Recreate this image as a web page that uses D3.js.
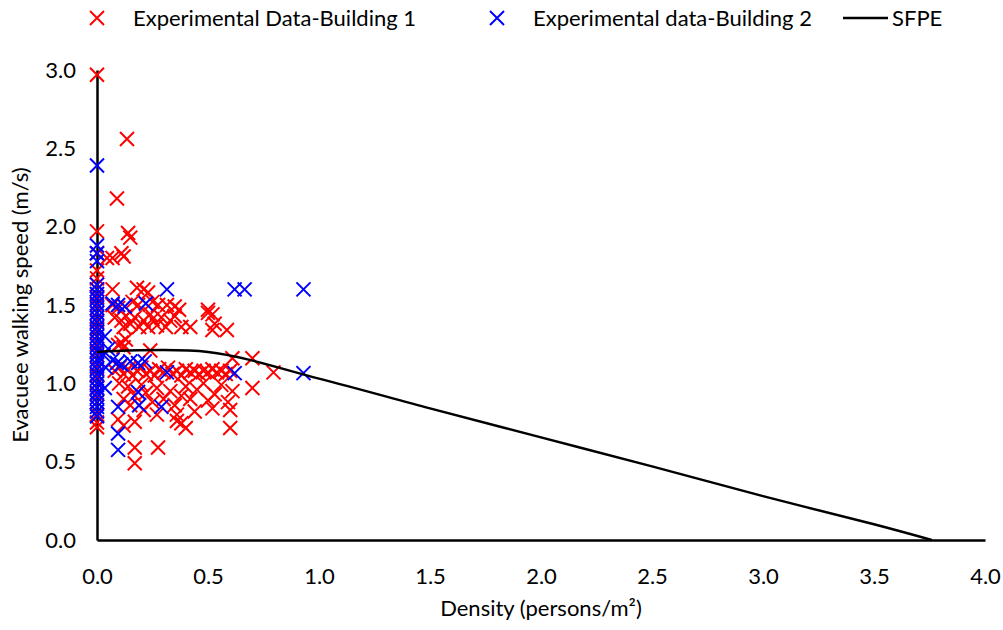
<!DOCTYPE html>
<html>
<head>
<meta charset="utf-8">
<script src="https://cdn.jsdelivr.net/npm/d3@7"></script>
<style>
  html, body { margin: 0; padding: 0; background: #fff; }
  svg text { font-family: Lato, "Open Sans", sans-serif; fill: #000; }
</style>
</head>
<body>
<svg id="chart" width="1003" height="630"></svg>
<script>
// Building 1 observations: density (persons/m²) and walking speed (m/s)
const densityB1 = [
  0,0,0,0,0,0,0,0,0,0,0,0,0,0,0,0,0,0,0,0,0,0,0,0,0,0,
  0.135,0.09,0.14,0.15,0.045,0.07,0.11,0.12,0.07,
  0.18,0.21,0.23,
  0.07,0.095,0.16,0.185,0.25,0.275,0.315,0.35,0.37,0.50,0.52,0.50,
  0.08,0.11,0.13,0.15,0.17,0.19,0.21,0.23,0.25,0.27,0.29,0.31,0.33,0.35,0.38,0.42,0.52,0.53,0.585,0.12,0.24,
  0.11,0.095,0.12,0.24,0.13,
  0.61,0.70,
  0.08,0.10,0.12,0.14,0.16,0.18,0.20,0.22,0.24,0.26,0.28,0.30,0.32,0.34,0.36,0.38,0.40,0.42,0.44,0.46,0.48,0.50,0.52,0.54,0.56,0.58,0.60,0.795,
  0.70,0.61,0.59,0.53,0.50,0.45,0.42,0.40,0.38,0.35,0.33,0.30,0.27,0.25,0.22,0.20,0.17,0.14,0.12,0.10,0.56,0.48,0.15,0.21,0.52,0.60,0.36,0.44,0.27,
  0.095,0.17,0.38,0.40,0.60,0.17,0.275,0.17,0.12,0.36
];
const speedB1 = [
  2.97,1.97,1.83,1.72,1.67,1.63,1.60,1.55,1.50,1.45,1.40,1.35,1.33,1.30,1.25,1.20,1.15,1.10,1.05,1.00,0.97,0.93,0.88,0.80,0.75,0.72,
  2.56,2.18,1.96,1.93,1.80,1.80,1.83,1.81,1.60,
  1.61,1.60,1.58,
  1.50,1.48,1.52,1.50,1.52,1.50,1.50,1.49,1.47,1.45,1.44,1.47,
  1.42,1.40,1.43,1.38,1.42,1.36,1.40,1.36,1.41,1.37,1.42,1.36,1.40,1.43,1.36,1.36,1.34,1.38,1.34,1.36,1.44,
  1.26,1.245,1.23,1.21,1.28,
  1.16,1.16,
  1.08,1.10,1.06,1.09,1.05,1.08,1.10,1.06,1.08,1.05,1.09,1.07,1.10,1.06,1.08,1.05,1.09,1.07,1.08,1.06,1.08,1.07,1.09,1.07,1.08,1.06,1.08,1.07,
  0.97,0.95,0.88,0.93,0.89,0.96,0.90,0.98,0.92,0.86,0.95,0.90,0.97,0.88,0.94,0.99,0.92,0.98,0.90,1.00,0.99,1.00,0.86,0.83,0.84,0.83,0.80,0.82,0.80,
  0.77,0.755,0.745,0.715,0.715,0.59,0.59,0.49,0.73,0.76
];

// Building 2 observations
const densityB2 = [
  0,0,0,0,0,0,0,0,0,0,0,0,0,0,0,0,0,0,0,0,0,0,0,0,0,0,0,0,0,0,0,0,0,
  0.07,0.095,0.125,0.22,0.315,0.62,0.665,0.93,0.035,
  0.07,0.09,0.11,0.15,0.185,0.215,0.315,0.62,0.93,
  0.035,0.185,0.19,0.095,0.29,0.095,0.095,0.04,0.03,0.05
];
const speedB2 = [
  2.39,1.88,1.83,1.78,1.63,1.60,1.57,1.54,1.51,1.48,1.45,1.42,1.39,1.36,1.33,1.30,1.27,1.24,1.21,1.18,1.15,1.12,1.09,1.06,1.03,1.00,0.97,0.94,0.91,0.88,0.85,0.82,0.79,
  1.51,1.50,1.49,1.51,1.60,1.60,1.60,1.60,1.30,
  1.15,1.13,1.12,1.14,1.13,1.14,1.07,1.065,1.065,
  0.97,0.945,0.86,0.85,0.85,0.68,0.575,1.10,1.18,1.22
];

// SFPE speed–density relation
const sfpeDensity = [0, 0.5, 1.0, 1.5, 2.0, 2.5, 3.0, 3.5, 3.76];
const sfpeSpeed   = [1.20, 1.20, 1.03, 0.84, 0.655, 0.47, 0.28, 0.10, 0.0];

// Axis ticks
const xTicks = [0, 0.5, 1.0, 1.5, 2.0, 2.5, 3.0, 3.5, 4.0];
const yTicks = [0, 0.5, 1.0, 1.5, 2.0, 2.5, 3.0];

const legendLabels = ["Experimental Data-Building 1", "Experimental data-Building 2", "SFPE"];

const svg = d3.select("#chart");
const plot = { left: 97, right: 985, top: 70, bottom: 540 };

const x = d3.scaleLinear().domain([0, 4]).range([plot.left, plot.right]);
const y = d3.scaleLinear().domain([0, 3]).range([plot.bottom, plot.top]);

const fontSize = 22;
const markerHalf = 7;
const crossPath = `M${-markerHalf},${-markerHalf}L${markerHalf},${markerHalf}M${-markerHalf},${markerHalf}L${markerHalf},${-markerHalf}`;

// Axes (no tick marks, labels only)
const xAxis = d3.axisBottom(x).tickValues(xTicks).tickFormat(d3.format(".1f")).tickSize(0).tickPadding(28);
const yAxis = d3.axisLeft(y).tickValues(yTicks).tickFormat(d3.format(".1f")).tickSize(0).tickPadding(21);

const gx = svg.append("g").attr("transform", `translate(0,${plot.bottom})`).call(xAxis);
const gy = svg.append("g").attr("transform", `translate(${plot.left},0)`).call(yAxis);
[gx, gy].forEach(g => {
  g.select(".domain").attr("stroke", "#000").attr("stroke-width", 2.5);
  g.selectAll("text").attr("font-size", fontSize).attr("font-family", "Lato, sans-serif").attr("fill", "#000");
});

// Scatter series
function drawSeries(dx, dy, color) {
  svg.append("g")
    .selectAll("path")
    .data(d3.zip(dx, dy))
    .join("path")
    .attr("transform", d => `translate(${x(d[0])},${y(d[1])})`)
    .attr("d", crossPath)
    .attr("fill", "none")
    .attr("stroke", color)
    .attr("stroke-width", 2);
}
drawSeries(densityB1, speedB1, "#ff0000");
drawSeries(densityB2, speedB2, "#0000ff");

// SFPE curve
const line = d3.line()
  .x(d => x(d[0]))
  .y(d => y(d[1]))
  .curve(d3.curveCatmullRom.alpha(0.5));
svg.append("path")
  .datum(d3.zip(sfpeDensity, sfpeSpeed))
  .attr("d", line)
  .attr("fill", "none")
  .attr("stroke", "#000")
  .attr("stroke-width", 2.5);

// Axis titles
svg.append("text")
  .attr("x", (plot.left + plot.right) / 2)
  .attr("y", 616)
  .attr("text-anchor", "middle")
  .attr("font-size", fontSize)
  .text("Density (persons/m²)");

svg.append("text")
  .attr("transform", `translate(28,${(plot.top + plot.bottom) / 2}) rotate(-90)`)
  .attr("text-anchor", "middle")
  .attr("font-size", fontSize)
  .text("Evacuee walking speed (m/s)");

// Legend
const legendY = 18;
const lg = svg.append("g");
const legendItems = [
  { type: "marker", color: "#ff0000", mx: 97, tx: 133 },
  { type: "marker", color: "#0000ff", mx: 497, tx: 533 },
  { type: "line", color: "#000", mx: 843, tx: 892 }
];
legendItems.forEach((it, i) => {
  if (it.type === "marker") {
    lg.append("path")
      .attr("transform", `translate(${it.mx},${legendY})`)
      .attr("d", crossPath)
      .attr("fill", "none")
      .attr("stroke", it.color)
      .attr("stroke-width", 2);
  } else {
    lg.append("line")
      .attr("x1", it.mx).attr("x2", it.mx + 45)
      .attr("y1", legendY).attr("y2", legendY)
      .attr("stroke", it.color).attr("stroke-width", 2.5);
  }
  lg.append("text")
    .attr("x", it.tx)
    .attr("y", legendY)
    .attr("dy", "0.35em")
    .attr("font-size", fontSize)
    .text(legendLabels[i]);
});
</script>
</body>
</html>
